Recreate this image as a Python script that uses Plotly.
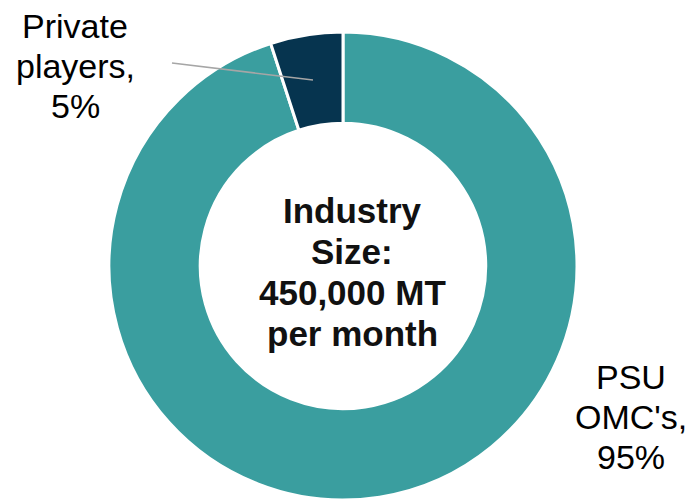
import plotly.graph_objects as go

categories = ["PSU OMC's", "Private players"]
shares = [95, 5]
colors = ["#3a9e9f", "#06344f"]
center_lines = ["Industry", "Size:", "450,000 MT", "per month"]
private_lines = ["Private", "players,", "5%"]
psu_lines = ["PSU", "OMC's,", "95%"]

W, H = 696, 500
OFF = 8  # page body margin offset

def px(x):
    return (x - OFF) / W

def py(y):
    return 1 - (y - OFF) / H

fig = go.Figure(go.Pie(
    labels=categories,
    values=shares,
    sort=False,
    direction="clockwise",
    rotation=0,
    hole=0.61,
    marker=dict(colors=colors, line=dict(color="white", width=3)),
    textinfo="none",
    hoverinfo="label+percent",
    domain=dict(x=[px(109), px(577)], y=[py(500), py(32)]),
    showlegend=False,
))

annotations = []
for i, t in enumerate(center_lines):
    annotations.append(dict(
        text=t, x=px(352), y=py(210 + i * 41.3), xref="paper", yref="paper",
        showarrow=False, xanchor="center", yanchor="middle",
        font=dict(family="Liberation Sans, Arial", size=35, color="#111111", weight="bold"),
    ))
for i, t in enumerate(private_lines):
    annotations.append(dict(
        text=t, x=px(75), y=py(26 + i * 40), xref="paper", yref="paper",
        showarrow=False, xanchor="center", yanchor="middle", borderpad=0,
        font=dict(family="Liberation Sans, Arial", size=34, color="#000000"),
    ))
for i, t in enumerate(psu_lines):
    annotations.append(dict(
        text=t, x=px(631), y=py(377 + i * 40), xref="paper", yref="paper",
        showarrow=False, xanchor="center", yanchor="middle",
        font=dict(family="Liberation Sans, Arial", size=34, color="#000000"),
    ))

fig.update_layout(
    width=W, height=H,
    margin=dict(l=0, r=0, t=0, b=0),
    paper_bgcolor="white",
    plot_bgcolor="white",
    annotations=annotations,
    shapes=[dict(type="line", xref="paper", yref="paper",
                 x0=px(172), y0=py(63), x1=px(313), y1=py(80),
                 line=dict(color="#a6a6a6", width=1.5))],
)

fig.write_html("out.html")
